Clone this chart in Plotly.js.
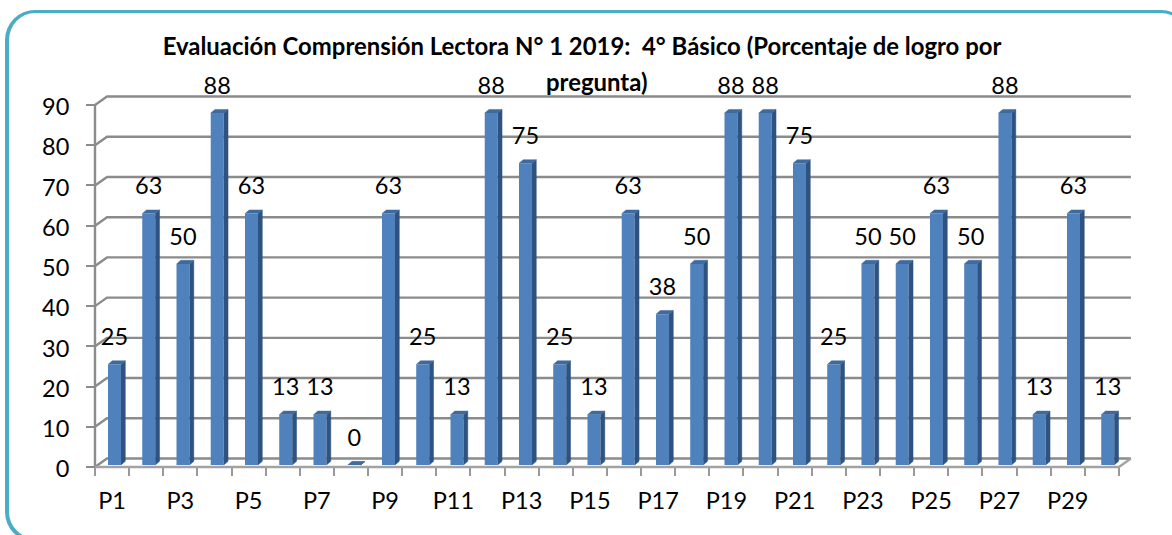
<!DOCTYPE html>
<html><head><meta charset="utf-8">
<script src="https://cdn.plot.ly/plotly-3.0.1.min.js"></script>
<style>
html,body{margin:0;padding:0;background:#fff;width:1172px;height:535px;overflow:hidden}
#frame{position:absolute;left:5px;top:9.5px;width:1178px;height:525px;border-style:solid;border-color:#4BACC6;border-width:3px 4.5px 4.5px 4.5px;border-radius:30px;background:#fff}
#chart{position:absolute;left:0;top:0;width:1172px;height:535px}
</style></head><body>
<div id="frame"></div><div id="chart"></div>
<script>
const categories = ["P1","P2","P3","P4","P5","P6","P7","P8","P9","P10","P11","P12","P13","P14","P15","P16","P17","P18","P19","P20","P21","P22","P23","P24","P25","P26","P27","P28","P29","P30"];
const logro = [25,62.5,50,87.5,62.5,12.5,12.5,0,62.5,25,12.5,87.5,75,25,12.5,62.5,37.5,50,87.5,87.5,75,25,50,50,62.5,50,87.5,12.5,62.5,12.5];
const yTicks = [0,10,20,30,40,50,60,70,80,90];
const titleLine1 = "Evaluación Comprensión Lectora N° 1 2019:  4° Básico (Porcentaje de logro por";
const titleLine2 = "pregunta)";

const W=1172,H=535,pad=4;
const L=94.7-pad,R=41.3-pad,T=75,B=68-pad;
const pw=W-L-R, ph=H-T-B;
const pxX=34.13, pxY=4.022;
const backX=12/pxX, backY=8.5/pxY;
const xr=[-pad/pxX,(pw-pad)/pxX], yr=[-pad/pxY,(ph-pad)/pxY];
// bar layout in category units
const barStart=0.571, barStep=1.0035, barW=0.381, barBase=0.5;
const sideX=0.126, sideY=0.9;
const barX=logro.map((v,i)=>barStart+i*barStep);

const gridColor="#8b8b8b";
const labelFont={family:"Lato",size:23.5,color:"#000"};
function poly(fn){const xs=[],ys=[];logro.forEach((v,i)=>{fn(v,barX[i]).forEach(p=>{xs.push(p[0]);ys.push(p[1]);});xs.push(null);ys.push(null);});return {x:xs,y:ys};}
function lines(fn){const xs=[],ys=[];yTicks.forEach(v=>{fn(v).forEach(p=>{xs.push(p[0]);ys.push(p[1]);});xs.push(null);ys.push(null);});return {x:xs,y:ys};}

const back=lines(v=>[[0,v],[backX,v+backY],[30+backX,v+backY]]);
const traces=[
 {type:"scatter",mode:"lines",x:back.x,y:back.y,line:{color:gridColor,width:2.4},hoverinfo:"skip",showlegend:false,xaxis:"x",yaxis:"y"},
 {type:"scatter",mode:"lines",x:[0,0],y:[0,90],line:{color:gridColor,width:2.4},hoverinfo:"skip",showlegend:false,xaxis:"x",yaxis:"y"},
 {type:"scatter",mode:"lines",x:[0,30,30+backX],y:[0,0,backY],line:{color:"#a2a2a2",width:2.4},hoverinfo:"skip",showlegend:false,xaxis:"x",yaxis:"y"},
];
const side=poly((v,x)=>[[x+barW/2,barBase],[x+barW/2+sideX,barBase+sideY],[x+barW/2+sideX,barBase+v+sideY],[x+barW/2,barBase+v]]);
const top_=poly((v,x)=>[[x-barW/2,barBase+v],[x-barW/2+sideX,barBase+v+sideY],[x+barW/2+sideX,barBase+v+sideY],[x+barW/2,barBase+v]]);
traces.push({type:"bar",x:barX,y:logro,base:logro.map(()=>barBase),width:barW,customdata:categories,marker:{color:"#4F81BD",line:{width:0}},hovertemplate:"%{customdata}: %{y}<extra></extra>",showlegend:false,xaxis:"x2",yaxis:"y2"});
traces.push({type:"scatter",mode:"lines",x:side.x,y:side.y,fill:"toself",fillcolor:"#2F5380",line:{color:"#2F5380",width:0.5},hoverinfo:"skip",showlegend:false,xaxis:"x2",yaxis:"y2"});
traces.push({type:"scatter",mode:"lines",x:top_.x,y:top_.y,fill:"toself",fillcolor:"#3E6A9E",line:{color:"#3E6A9E",width:0.5},hoverinfo:"skip",showlegend:false,xaxis:"x2",yaxis:"y2"});
traces.push({type:"scatter",mode:"text",x:barX,y:logro.map(v=>v+6.75),text:logro.map(v=>String(Math.round(v))),textposition:"middle center",textfont:labelFont,cliponaxis:false,hoverinfo:"skip",showlegend:false,xaxis:"x2",yaxis:"y2"});

const oddIdx=categories.map((c,i)=>i).filter(i=>i%2===0);
const titleFont={family:"Lato",size:23.9,weight:700,color:"#000"};
const layout={
 width:W,height:H,margin:{l:L,r:R,t:T,b:B,pad:0},
 paper_bgcolor:"rgba(0,0,0,0)",plot_bgcolor:"rgba(0,0,0,0)",
 font:labelFont,
 showlegend:false,
 title:{text:titleLine1,font:titleFont,xref:"container",yref:"container",x:582/W,xanchor:"center",y:1-47/H,yanchor:"middle"},
 annotations:[{text:titleLine2,font:titleFont,xref:"paper",yref:"paper",x:(596-L)/pw,y:(H-B-81)/ph,xanchor:"center",yanchor:"middle",showarrow:false}],
 xaxis:{range:xr,anchor:"free",position:pad/ph,tickmode:"array",tickvals:categories.map((c,i)=>i).concat([30]),ticktext:categories.map(()=>"").concat([""]),ticks:"outside",ticklen:8,tickwidth:2,tickcolor:"#999999",showgrid:false,zeroline:false,showline:false,fixedrange:true},
 yaxis:{range:yr,anchor:"free",position:pad/pw,tickmode:"array",tickvals:yTicks,ticktext:yTicks.map(String),ticks:"outside",ticklen:9,tickwidth:2,tickcolor:gridColor,ticklabelstandoff:12,ticklabelshift:2,showgrid:false,zeroline:false,showline:false,fixedrange:true},
 xaxis2:{overlaying:"x",anchor:"y2",range:xr,tickmode:"array",tickvals:oddIdx.map(i=>i+0.5),ticktext:oddIdx.map(i=>categories[i]),ticks:"",ticklabelstandoff:13,showgrid:false,zeroline:false,showline:false,fixedrange:true},
 yaxis2:{overlaying:"y",anchor:"x2",range:yr,showticklabels:false,ticks:"",showgrid:false,zeroline:false,showline:false,fixedrange:true},
 barmode:"overlay"
};
Plotly.newPlot("chart",traces,layout,{displayModeBar:false,staticPlot:true});
</script></body></html>
